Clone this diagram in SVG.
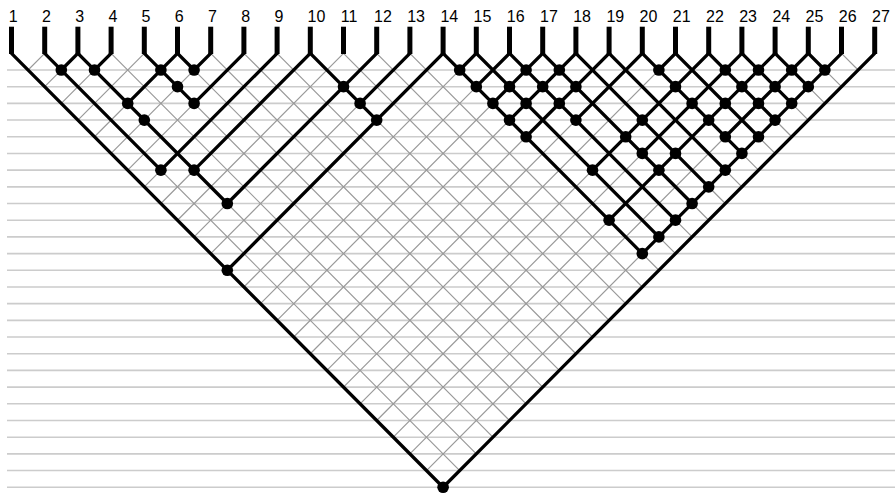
<svg xmlns="http://www.w3.org/2000/svg" width="895" height="495" viewBox="0 0 895 495">
<style>
.hl{stroke:#cccccc;stroke-width:1.6;fill:none}
.gr{stroke:#999999;stroke-width:1.2;fill:none;vector-effect:non-scaling-stroke}
.e{stroke:#000;stroke-width:3.3;fill:none;stroke-linecap:round;stroke-linejoin:miter;vector-effect:non-scaling-stroke}
.stub{stroke:#000;stroke-width:5}
.lbl{font-family:"Liberation Sans Narrow","Liberation Sans",Arial,sans-serif;font-size:16px;fill:#000}
.nodes circle{fill:#000}
</style>
<rect width="895" height="495" fill="#ffffff"/>
<path class="hl" d="M7 70H895M7 86.69H895M7 103.38H895M7 120.07H895M7 136.76H895M7 153.45H895M7 170.14H895M7 186.83H895M7 203.52H895M7 220.21H895M7 236.9H895M7 253.59H895M7 270.28H895M7 286.97H895M7 303.66H895M7 320.35H895M7 337.04H895M7 353.73H895M7 370.42H895M7 387.11H895M7 403.8H895M7 420.49H895M7 437.18H895M7 453.87H895M7 470.56H895M7 487.25H895"/>
<g id="lattice" transform="translate(11.5 53.31) scale(16.6 16.69)">
<path class="gr" d="M2 0L1 1M4 0L2 2M6 0L3 3M8 0L4 4M10 0L5 5M12 0L6 6M14 0L7 7M16 0L8 8M18 0L9 9M20 0L10 10M22 0L11 11M24 0L12 12M26 0L13 13M28 0L14 14M30 0L15 15M32 0L16 16M34 0L17 17M36 0L18 18M38 0L19 19M40 0L20 20M42 0L21 21M44 0L22 22M46 0L23 23M48 0L24 24M50 0L25 25M52 0L26 26"/>
<path class="gr" d="M0 0L26 26M2 0L27 25M4 0L28 24M6 0L29 23M8 0L30 22M10 0L31 21M12 0L32 20M14 0L33 19M16 0L34 18M18 0L35 17M20 0L36 16M22 0L37 15M24 0L38 14M26 0L39 13M28 0L40 12M30 0L41 11M32 0L42 10M34 0L43 9M36 0L44 8M38 0L45 7M40 0L46 6M42 0L47 5M44 0L48 4M46 0L49 3M48 0L50 2M50 0L51 1"/>
</g>
<g id="connectors" transform="translate(11.5 53.31) scale(16.6 16.69)">
<path class="e" d="M0 0L26 26"/>
<path class="e" d="M2 0L9 7"/>
<path class="e" d="M3 1L4 0L13 9"/>
<path class="e" d="M6 0L5 1"/>
<path class="e" d="M8 0L11 3"/>
<path class="e" d="M7 3L10 0L11 1"/>
<path class="e" d="M12 0L11 1"/>
<path class="e" d="M14 0L11 3"/>
<path class="e" d="M16 0L9 7"/>
<path class="e" d="M11 7L18 0L22 4"/>
<path class="e" d="M22 0L13 9"/>
<path class="e" d="M24 0L21 3"/>
<path class="e" d="M13 13L26 0L38 12"/>
<path class="e" d="M27 1L28 0L39 11"/>
<path class="e" d="M28 2L30 0L40 10"/>
<path class="e" d="M29 3L32 0L41 9"/>
<path class="e" d="M30 4L34 0L42 8"/>
<path class="e" d="M31 5L36 0L43 7"/>
<path class="e" d="M34 4L38 0L44 6"/>
<path class="e" d="M39 1L40 0L45 5"/>
<path class="e" d="M35 7L42 0L46 4"/>
<path class="e" d="M38 6L44 0L47 3"/>
<path class="e" d="M36 10L46 0L48 2"/>
<path class="e" d="M43 5L48 0L49 1"/>
<path class="e" d="M50 0L38 12"/>
<path class="e" d="M52 0L26 26"/>
</g>
<g id="leaves">
<g id="leaf1"><text class="lbl" x="8.8" y="21.7">1</text><line class="stub" x1="11.5" y1="26.7" x2="11.5" y2="54"/></g>
<g id="leaf2"><text class="lbl" x="42" y="21.7">2</text><line class="stub" x1="44.7" y1="26.7" x2="44.7" y2="54"/></g>
<g id="leaf3"><text class="lbl" x="75.2" y="21.7">3</text><line class="stub" x1="77.9" y1="26.7" x2="77.9" y2="54"/></g>
<g id="leaf4"><text class="lbl" x="108.4" y="21.7">4</text><line class="stub" x1="111.1" y1="26.7" x2="111.1" y2="54"/></g>
<g id="leaf5"><text class="lbl" x="141.6" y="21.7">5</text><line class="stub" x1="144.3" y1="26.7" x2="144.3" y2="54"/></g>
<g id="leaf6"><text class="lbl" x="174.8" y="21.7">6</text><line class="stub" x1="177.5" y1="26.7" x2="177.5" y2="54"/></g>
<g id="leaf7"><text class="lbl" x="208" y="21.7">7</text><line class="stub" x1="210.7" y1="26.7" x2="210.7" y2="54"/></g>
<g id="leaf8"><text class="lbl" x="241.2" y="21.7">8</text><line class="stub" x1="243.9" y1="26.7" x2="243.9" y2="54"/></g>
<g id="leaf9"><text class="lbl" x="274.4" y="21.7">9</text><line class="stub" x1="277.1" y1="26.7" x2="277.1" y2="54"/></g>
<g id="leaf10"><text class="lbl" x="307.6" y="21.7">10</text><line class="stub" x1="310.3" y1="26.7" x2="310.3" y2="54"/></g>
<g id="leaf11"><text class="lbl" x="340.8" y="21.7">11</text><line class="stub" x1="343.5" y1="26.7" x2="343.5" y2="54"/></g>
<g id="leaf12"><text class="lbl" x="374" y="21.7">12</text><line class="stub" x1="376.7" y1="26.7" x2="376.7" y2="54"/></g>
<g id="leaf13"><text class="lbl" x="407.2" y="21.7">13</text><line class="stub" x1="409.9" y1="26.7" x2="409.9" y2="54"/></g>
<g id="leaf14"><text class="lbl" x="440.4" y="21.7">14</text><line class="stub" x1="443.1" y1="26.7" x2="443.1" y2="54"/></g>
<g id="leaf15"><text class="lbl" x="473.6" y="21.7">15</text><line class="stub" x1="476.3" y1="26.7" x2="476.3" y2="54"/></g>
<g id="leaf16"><text class="lbl" x="506.8" y="21.7">16</text><line class="stub" x1="509.5" y1="26.7" x2="509.5" y2="54"/></g>
<g id="leaf17"><text class="lbl" x="540" y="21.7">17</text><line class="stub" x1="542.7" y1="26.7" x2="542.7" y2="54"/></g>
<g id="leaf18"><text class="lbl" x="573.2" y="21.7">18</text><line class="stub" x1="575.9" y1="26.7" x2="575.9" y2="54"/></g>
<g id="leaf19"><text class="lbl" x="606.4" y="21.7">19</text><line class="stub" x1="609.1" y1="26.7" x2="609.1" y2="54"/></g>
<g id="leaf20"><text class="lbl" x="639.6" y="21.7">20</text><line class="stub" x1="642.3" y1="26.7" x2="642.3" y2="54"/></g>
<g id="leaf21"><text class="lbl" x="672.8" y="21.7">21</text><line class="stub" x1="675.5" y1="26.7" x2="675.5" y2="54"/></g>
<g id="leaf22"><text class="lbl" x="706" y="21.7">22</text><line class="stub" x1="708.7" y1="26.7" x2="708.7" y2="54"/></g>
<g id="leaf23"><text class="lbl" x="739.2" y="21.7">23</text><line class="stub" x1="741.9" y1="26.7" x2="741.9" y2="54"/></g>
<g id="leaf24"><text class="lbl" x="772.4" y="21.7">24</text><line class="stub" x1="775.1" y1="26.7" x2="775.1" y2="54"/></g>
<g id="leaf25"><text class="lbl" x="805.6" y="21.7">25</text><line class="stub" x1="808.3" y1="26.7" x2="808.3" y2="54"/></g>
<g id="leaf26"><text class="lbl" x="838.8" y="21.7">26</text><line class="stub" x1="841.5" y1="26.7" x2="841.5" y2="54"/></g>
<g id="leaf27"><text class="lbl" x="872" y="21.7">27</text><line class="stub" x1="874.7" y1="26.7" x2="874.7" y2="54"/></g>
</g>
<g class="nodes" transform="translate(11.5 53.31) scale(16.6 16.69)">
<g id="n2-3"><circle cx="3" cy="1" r="0.35"/></g>
<g id="n3-4"><circle cx="5" cy="1" r="0.35"/></g>
<g id="n5-6"><circle cx="9" cy="1" r="0.35"/></g>
<g id="n6-7"><circle cx="11" cy="1" r="0.35"/></g>
<g id="n5-7"><circle cx="10" cy="2" r="0.35"/></g>
<g id="n3-6"><circle cx="7" cy="3" r="0.35"/></g>
<g id="n5-8"><circle cx="11" cy="3" r="0.35"/></g>
<g id="n3-7"><circle cx="8" cy="4" r="0.35"/></g>
<g id="n2-9"><circle cx="9" cy="7" r="0.35"/></g>
<g id="n3-10"><circle cx="11" cy="7" r="0.35"/></g>
<g id="n3-12"><circle cx="13" cy="9" r="0.35"/></g>
<g id="n1-14"><circle cx="13" cy="13" r="0.35"/></g>
<g id="n10-12"><circle cx="20" cy="2" r="0.35"/></g>
<g id="n10-13"><circle cx="21" cy="3" r="0.35"/></g>
<g id="n10-14"><circle cx="22" cy="4" r="0.35"/></g>
<g id="n1-27"><circle cx="26" cy="26" r="0.35"/></g>
<g id="n14-15"><circle cx="27" cy="1" r="0.35"/></g>
<g id="n14-16"><circle cx="28" cy="2" r="0.35"/></g>
<g id="n14-17"><circle cx="29" cy="3" r="0.35"/></g>
<g id="n14-18"><circle cx="30" cy="4" r="0.35"/></g>
<g id="n14-19"><circle cx="31" cy="5" r="0.35"/></g>
<g id="n16-17"><circle cx="31" cy="1" r="0.35"/></g>
<g id="n15-17"><circle cx="30" cy="2" r="0.35"/></g>
<g id="n15-18"><circle cx="31" cy="3" r="0.35"/></g>
<g id="n16-18"><circle cx="32" cy="2" r="0.35"/></g>
<g id="n17-18"><circle cx="33" cy="1" r="0.35"/></g>
<g id="n16-19"><circle cx="33" cy="3" r="0.35"/></g>
<g id="n17-19"><circle cx="34" cy="2" r="0.35"/></g>
<g id="n16-20"><circle cx="34" cy="4" r="0.35"/></g>
<g id="n18-22"><circle cx="38" cy="4" r="0.35"/></g>
<g id="n17-22"><circle cx="37" cy="5" r="0.35"/></g>
<g id="n17-23"><circle cx="38" cy="6" r="0.35"/></g>
<g id="n15-22"><circle cx="35" cy="7" r="0.35"/></g>
<g id="n14-24"><circle cx="36" cy="10" r="0.35"/></g>
<g id="n14-26"><circle cx="38" cy="12" r="0.35"/></g>
<g id="n15-26"><circle cx="39" cy="11" r="0.35"/></g>
<g id="n20-21"><circle cx="39" cy="1" r="0.35"/></g>
<g id="n20-22"><circle cx="40" cy="2" r="0.35"/></g>
<g id="n20-23"><circle cx="41" cy="3" r="0.35"/></g>
<g id="n20-24"><circle cx="42" cy="4" r="0.35"/></g>
<g id="n20-25"><circle cx="43" cy="5" r="0.35"/></g>
<g id="n20-26"><circle cx="44" cy="6" r="0.35"/></g>
<g id="n22-23"><circle cx="43" cy="1" r="0.35"/></g>
<g id="n22-24"><circle cx="44" cy="2" r="0.35"/></g>
<g id="n21-24"><circle cx="43" cy="3" r="0.35"/></g>
<g id="n23-24"><circle cx="45" cy="1" r="0.35"/></g>
<g id="n23-25"><circle cx="46" cy="2" r="0.35"/></g>
<g id="n22-25"><circle cx="45" cy="3" r="0.35"/></g>
<g id="n22-26"><circle cx="46" cy="4" r="0.35"/></g>
<g id="n21-26"><circle cx="45" cy="5" r="0.35"/></g>
<g id="n24-25"><circle cx="47" cy="1" r="0.35"/></g>
<g id="n24-26"><circle cx="48" cy="2" r="0.35"/></g>
<g id="n23-26"><circle cx="47" cy="3" r="0.35"/></g>
<g id="n25-26"><circle cx="49" cy="1" r="0.35"/></g>
<g id="n18-24"><circle cx="40" cy="6" r="0.35"/></g>
<g id="n17-24"><circle cx="39" cy="7" r="0.35"/></g>
<g id="n19-26"><circle cx="43" cy="7" r="0.35"/></g>
<g id="n18-26"><circle cx="42" cy="8" r="0.35"/></g>
<g id="n17-26"><circle cx="41" cy="9" r="0.35"/></g>
<g id="n16-26"><circle cx="40" cy="10" r="0.35"/></g>
</g>
</svg>
